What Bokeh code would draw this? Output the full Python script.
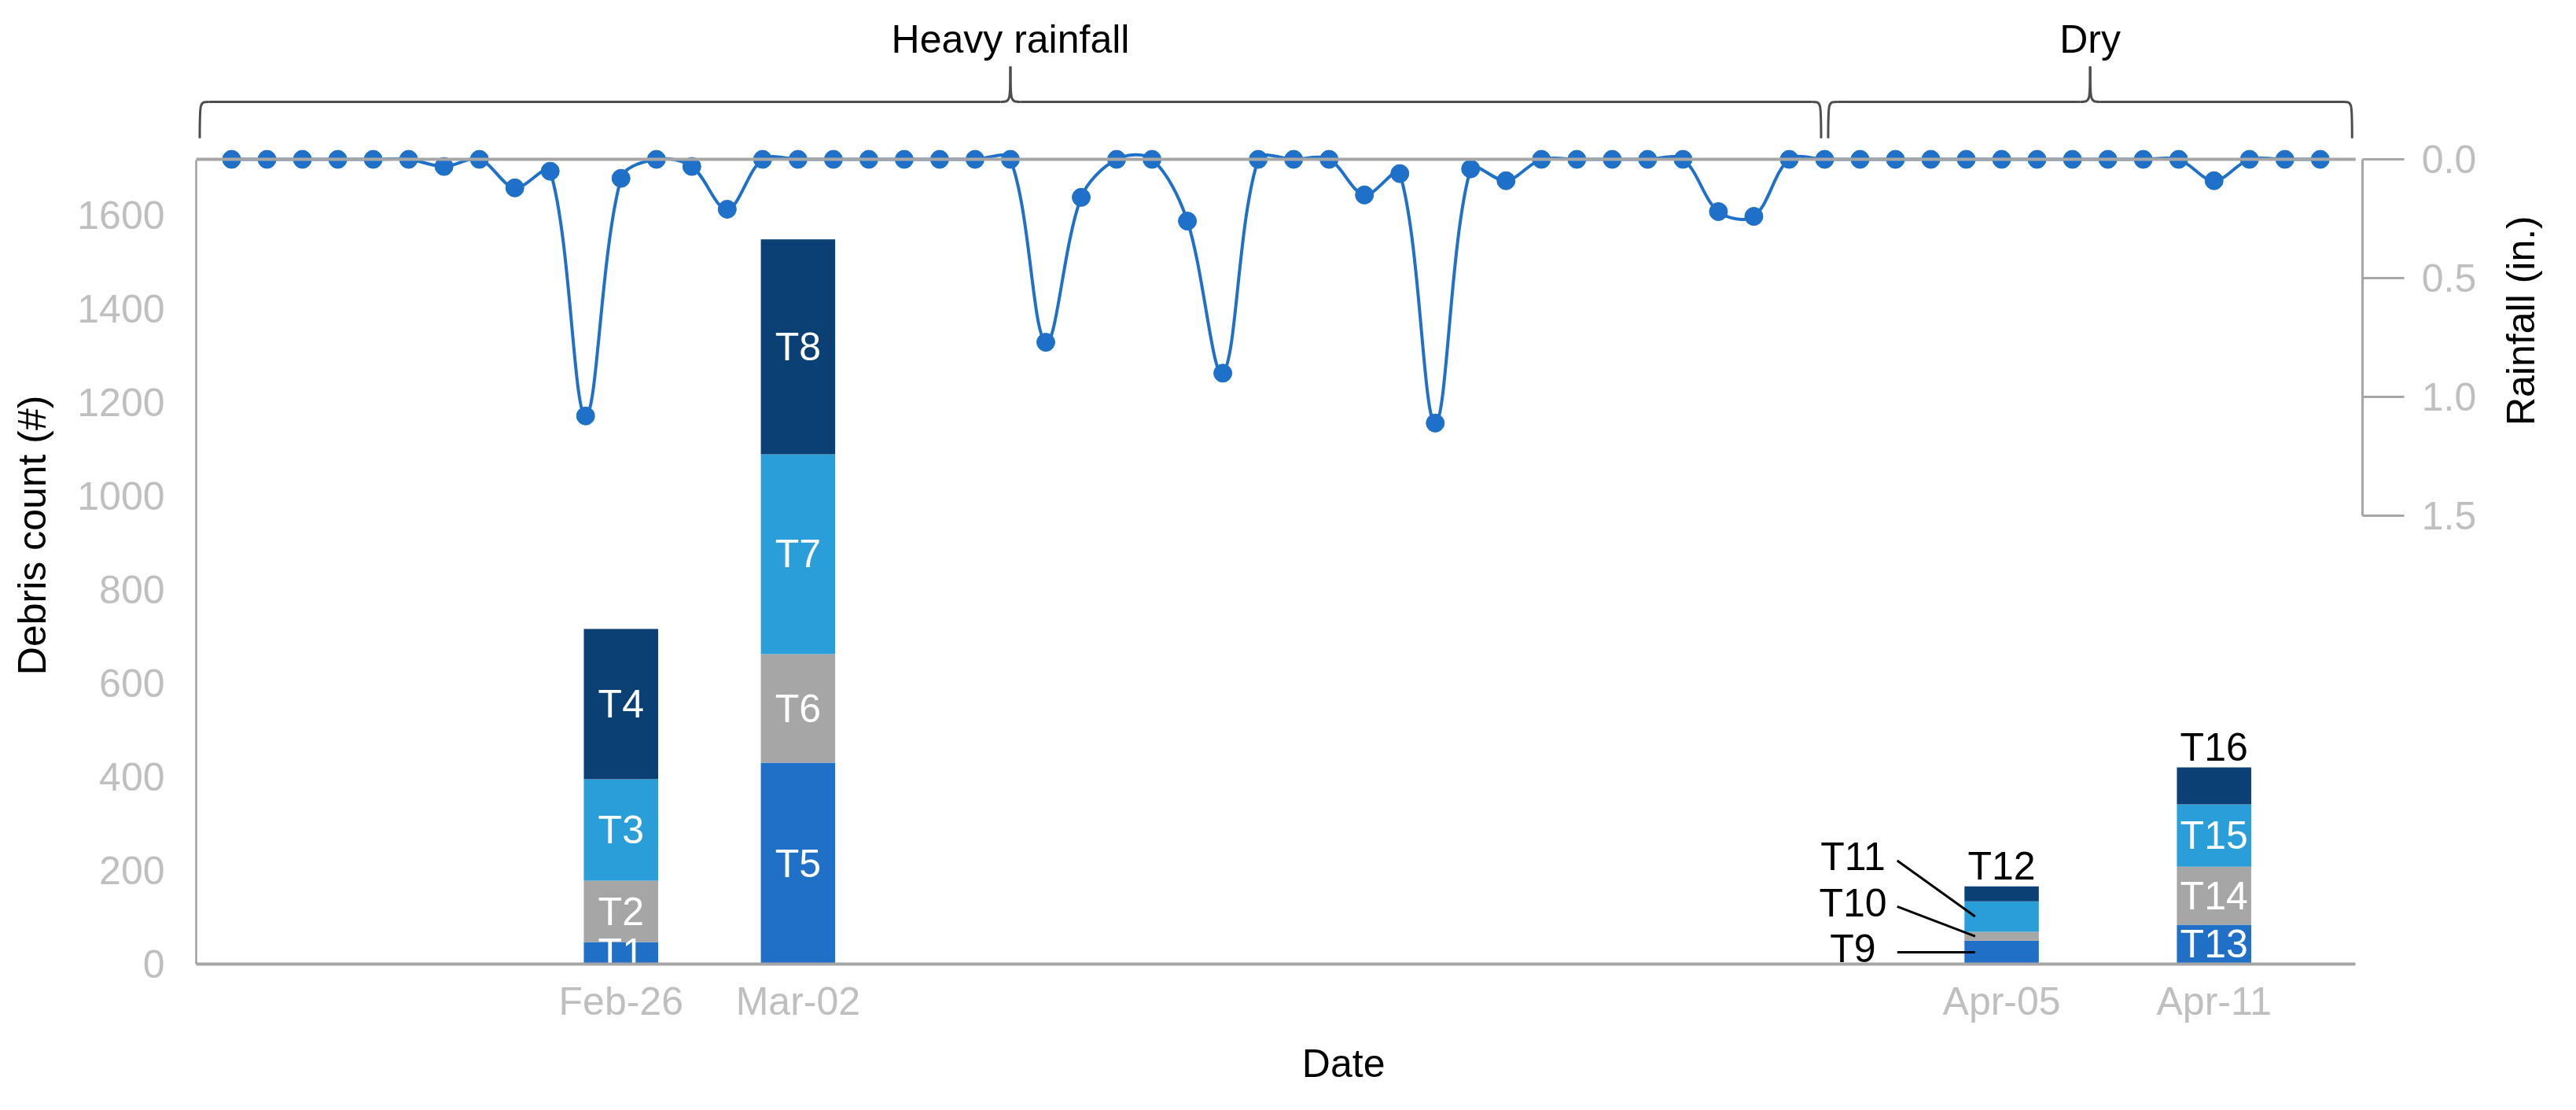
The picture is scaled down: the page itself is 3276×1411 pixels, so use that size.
import math
import datetime as dt
from bokeh.plotting import figure
from bokeh.models import Range1d, LinearAxis, FixedTicker, NumeralTickFormatter, ColumnDataSource
from bokeh.core.properties import value
from bokeh.embed import file_html
from bokeh.resources import INLINE

# ---------------- data ----------------
axis_origin = "2020-02-14"          # x = 0 of the date axis
axis_end = "2020-04-15"
rain_start = "2020-02-15"
rainfall_in = [
    0.00, 0.00, 0.00, 0.00, 0.00, 0.00, 0.03, 0.00, 0.12, 0.05,   # Feb-15 .. Feb-24
    1.08, 0.08, 0.00, 0.03, 0.21, 0.00, 0.00, 0.00, 0.00, 0.00,   # Feb-25 .. Mar-05
    0.00, 0.00, 0.00, 0.77, 0.16, 0.00, 0.00, 0.26, 0.90, 0.00,   # Mar-06 .. Mar-15
    0.00, 0.00, 0.15, 0.06, 1.11, 0.04, 0.09, 0.00, 0.00, 0.00,   # Mar-16 .. Mar-25
    0.00, 0.00, 0.22, 0.24, 0.00, 0.00, 0.00, 0.00, 0.00, 0.00,   # Mar-26 .. Apr-04
    0.00, 0.00, 0.00, 0.00, 0.00, 0.00, 0.09, 0.00, 0.00, 0.00,   # Apr-05 .. Apr-14
]

bar_dates = ["2020-02-26", "2020-03-02", "2020-04-05", "2020-04-11"]
bar_tick_labels = ["Feb-26", "Mar-02", "Apr-05", "Apr-11"]
layer_1 = [47, 430, 50, 84]
layer_2 = [131, 232, 19, 124]
layer_3 = [217, 427, 65, 133]
layer_4 = [321, 459, 32, 79]
names_1 = ["T1", "T5", "T9", "T13"]
names_2 = ["T2", "T6", "T10", "T14"]
names_3 = ["T3", "T7", "T11", "T15"]
names_4 = ["T4", "T8", "T12", "T16"]
outside_top = ["T12", "T16"]
outside_callout = ["T9", "T10", "T11"]

periods = ["Heavy rainfall", "Dry"]
period_start = ["2020-02-14", "2020-03-31"]
period_end = ["2020-03-31", "2020-04-15"]

count_ticks = [0, 200, 400, 600, 800, 1000, 1200, 1400, 1600]
rain_ticks = [0.0, 0.5, 1.0, 1.5]

# ---------------- styles ----------------
FONT = value("Liberation Sans")
FS = value("50px")
BLUE = "#1f70c9"
LAYER_COLORS = ["#1f70c6", "#a6a6a6", "#2a9ed8", "#0b4074"]
AX_GRAY = "#a6a6a6"
LBL_GRAY = "#bfbfbf"
BAR_W = 2.1
W, H = 3260, 1395
XR = (-5.531, 66.88)
YR = (-285.7, 2058.5)
RR = (3.950, -0.669)
PX_X = W / (XR[1] - XR[0])            # px per day
PX_C = H / (YR[1] - YR[0])            # px per count
PX_R = H / (RR[0] - RR[1])            # px per inch of rain

origin = dt.date.fromisoformat(axis_origin)


def day(s):
    return (dt.date.fromisoformat(s) - origin).days


x_end = day(axis_end)
rain_x = [day(rain_start) + i for i in range(len(rainfall_in))]
bar_x = [day(d) for d in bar_dates]

p = figure(width=W, height=H, output_backend="svg", toolbar_location=None,
           x_range=Range1d(*XR), y_range=Range1d(*YR),
           x_axis_location=None, y_axis_location=None, min_border=0,
           outline_line_color=None, background_fill_color="white",
           border_fill_color="white")
p.extra_y_ranges = {"rain": Range1d(*RR)}
p.grid.visible = False

# ---------------- axes ----------------
left = LinearAxis(fixed_location=0, bounds=(0, 1717), ticker=FixedTicker(ticks=count_ticks))
left.axis_line_color = "#a0a0a0"
left.axis_line_width = 2.5
left.major_tick_out = 0
left.major_tick_in = 0
left.minor_tick_line_color = None
left.major_tick_line_color = None
left.major_label_standoff = 40
left.major_label_text_color = LBL_GRAY
left.major_label_text_font = "Liberation Sans"
left.major_label_text_font_size = "50px"
p.add_layout(left, "left")

bottom = LinearAxis(fixed_location=0, bounds=(0, x_end), ticker=FixedTicker(ticks=bar_x),
                    major_label_overrides={x: t for x, t in zip(bar_x, bar_tick_labels)})
bottom.axis_line_color = AX_GRAY
bottom.axis_line_width = 4
bottom.major_tick_out = 0
bottom.major_tick_in = 0
bottom.major_tick_line_color = None
bottom.minor_tick_line_color = None
bottom.major_label_standoff = 20
bottom.major_label_text_color = LBL_GRAY
bottom.major_label_text_font = "Liberation Sans"
bottom.major_label_text_font_size = "50px"
p.add_layout(bottom, "below")

right = LinearAxis(y_range_name="rain", fixed_location=x_end + 0.2, bounds=(0, 1.5),
                   ticker=FixedTicker(ticks=rain_ticks), formatter=NumeralTickFormatter(format="0.0"))
right.axis_line_color = AX_GRAY
right.axis_line_width = 3
right.major_tick_line_color = AX_GRAY
right.major_tick_line_width = 3
right.major_tick_out = 53
right.major_tick_in = 0
right.minor_tick_line_color = None
right.major_label_standoff = 22
right.major_label_text_color = LBL_GRAY
right.major_label_text_font = "Liberation Sans"
right.major_label_text_font_size = "50px"
p.add_layout(right, "right")

# ---------------- stacked bars ----------------
layers = [layer_1, layer_2, layer_3, layer_4]
names = [names_1, names_2, names_3, names_4]
seg = dict(x=[], bottom=[], top=[], color=[], name=[], mid=[])
for j, xb in enumerate(bar_x):
    base = 0
    for li in range(len(layers)):
        v = layers[li][j]
        seg["x"].append(xb)
        seg["bottom"].append(base)
        seg["top"].append(base + v)
        seg["mid"].append(base + v / 2)
        seg["color"].append(LAYER_COLORS[li])
        seg["name"].append(names[li][j])
        base += v
seg_src = ColumnDataSource(seg)
p.vbar(x="x", width=BAR_W, bottom="bottom", top="top", fill_color="color",
       line_color=None, source=seg_src)

TOP_GAP = 26 / PX_C   # label centre 26 px above the bar top, in counts
inside = {k: [] for k in ("x", "y", "t")}
above = {k: [] for k in ("x", "y", "t")}
for i, n in enumerate(seg["name"]):
    if n in outside_top:
        above["x"].append(seg["x"][i]); above["y"].append(seg["top"][i] + TOP_GAP); above["t"].append(n)
    elif n not in outside_callout:
        inside["x"].append(seg["x"][i]); inside["y"].append(seg["mid"][i]); inside["t"].append(n)
p.text(x="x", y="y", text="t", source=ColumnDataSource(inside), text_color="white",
       text_align="center", text_baseline="middle", text_font=FONT, text_font_size=FS)
p.text(x="x", y="y", text="t", source=ColumnDataSource(above), text_color="black",
       text_align="center", text_baseline="middle",
       text_font=FONT, text_font_size=FS)

# callouts for the thin segments
co_idx = [i for i, n in enumerate(seg["name"]) if n in outside_callout]
co = dict(x0=[], y0=[], x1=[], y1=[])
co_t = dict(x=[], y=[], t=[])
first_mid = seg["mid"][co_idx[0]]
for rank, i in enumerate(co_idx):
    bl = seg["x"][i] - BAR_W / 2
    ly = first_mid + rank * 98
    co["x0"].append(bl - 1.9); co["y0"].append(ly)
    co["x1"].append(bl + 0.3); co["y1"].append(seg["mid"][i])
    co_t["x"].append(bl - 1.9 - 1.25); co_t["y"].append(ly + 8); co_t["t"].append(seg["name"][i])
p.segment(x0="x0", y0="y0", x1="x1", y1="y1", source=ColumnDataSource(co),
          line_color="black", line_width=3)
p.text(x="x", y="y", text="t", source=ColumnDataSource(co_t), text_color="black",
       text_align="center", text_baseline="middle", text_font=FONT, text_font_size=FS)

# ---------------- rainfall (smoothed line + markers) ----------------
n = len(rain_x)


def pt(i):
    i = min(max(i, 0), n - 1)
    return rain_x[i], rainfall_in[i]


def dist(i):
    # on-screen length of the segment i -> i+1
    (xa, ya), (xb, yb) = pt(i), pt(i + 1)
    return math.hypot((xb - xa) * PX_X, (yb - ya) * PX_R) or 1e-9


TENSION = 1 / 3
bz = dict(x0=[], y0=[], x1=[], y1=[], cx0=[], cy0=[], cx1=[], cy1=[])
for i in range(n - 1):
    xa, ya = pt(i); xb, yb = pt(i + 1); xm, ym = pt(i - 1); xp, yp = pt(i + 2)
    d_prev = dist(i - 1) if i > 0 else dist(i)
    d_cur = dist(i)
    d_next = dist(i + 1) if i + 1 < n - 1 else dist(i)
    f0 = TENSION * d_cur / (d_prev + d_cur)
    f1 = TENSION * d_cur / (d_cur + d_next)
    bz["x0"].append(xa); bz["y0"].append(ya); bz["x1"].append(xb); bz["y1"].append(yb)
    bz["cx0"].append(xa + (xb - xm) * f0); bz["cy0"].append(ya + (yb - ym) * f0)
    bz["cx1"].append(xb - (xp - xa) * f1); bz["cy1"].append(yb - (yp - ya) * f1)
p.bezier(x0="x0", y0="y0", x1="x1", y1="y1", cx0="cx0", cy0="cy0", cx1="cx1", cy1="cy1",
         source=ColumnDataSource(bz), y_range_name="rain", line_color=BLUE, line_width=4)
p.scatter(x=rain_x, y=rainfall_in, y_range_name="rain", size=23, fill_color=BLUE,
          line_color=BLUE)

# top (secondary horizontal) axis line at 0 in. rainfall
p.segment(x0=[0], y0=[0], x1=[x_end], y1=[0], y_range_name="rain",
          line_color=AX_GRAY, line_width=4)

# ---------------- period braces ----------------
Y_END, Y_LINE, Y_TIP, Y_TXT = -0.089, -0.242, -0.391, -0.505
R, C, GAP = 0.25, 0.28, 0.1
bb = dict(x0=[], y0=[], x1=[], y1=[], cx0=[], cy0=[], cx1=[], cy1=[])
sg = dict(x0=[], y0=[], x1=[], y1=[])
pt_txt = dict(x=[], y=[], t=[])


def add_bz(x0, y0, x1, y1, cx, cy):
    bb["x0"].append(x0); bb["y0"].append(y0); bb["x1"].append(x1); bb["y1"].append(y1)
    bb["cx0"].append(cx); bb["cy0"].append(cy); bb["cx1"].append(cx); bb["cy1"].append(cy)


for name, s, e in zip(periods, period_start, period_end):
    a = day(s) + GAP
    b = day(e) - GAP
    m = (a + b) / 2
    add_bz(a, Y_END, a + R, Y_LINE, a, Y_LINE)
    add_bz(m - C, Y_LINE, m, Y_TIP, m, Y_LINE)
    add_bz(m, Y_TIP, m + C, Y_LINE, m, Y_LINE)
    add_bz(b - R, Y_LINE, b, Y_END, b, Y_LINE)
    for xs0, xs1 in ((a + R, m - C), (m + C, b - R)):
        sg["x0"].append(xs0); sg["y0"].append(Y_LINE); sg["x1"].append(xs1); sg["y1"].append(Y_LINE)
    pt_txt["x"].append(m); pt_txt["y"].append(Y_TXT); pt_txt["t"].append(name)

p.bezier(x0="x0", y0="y0", x1="x1", y1="y1", cx0="cx0", cy0="cy0", cx1="cx1", cy1="cy1",
         source=ColumnDataSource(bb), y_range_name="rain", line_color="#4d4d4d", line_width=3)
p.segment(x0="x0", y0="y0", x1="x1", y1="y1", source=ColumnDataSource(sg),
          y_range_name="rain", line_color="#4d4d4d", line_width=3)
p.text(x="x", y="y", text="t", source=ColumnDataSource(pt_txt), y_range_name="rain",
       text_color="black", text_align="center", text_baseline="middle",
       text_font=FONT, text_font_size=FS)

# ---------------- axis titles ----------------
p.text(x=[-4.64], y=[916], text=["Debris count (#)"], angle=math.pi / 2,
       text_color="black", text_align="center", text_baseline="middle",
       text_font=FONT, text_font_size=FS)
p.text(x=[32.41], y=[-213], text=["Date"], text_color="black", text_align="center",
       text_baseline="middle", text_font=FONT, text_font_size=FS)
p.text(x=[65.68], y=[0.679], text=["Rainfall (in.)"], y_range_name="rain", angle=math.pi / 2,
       text_color="black", text_align="center", text_baseline="middle",
       text_font=FONT, text_font_size=FS)

open("out.html", "w").write(file_html(p, INLINE))
